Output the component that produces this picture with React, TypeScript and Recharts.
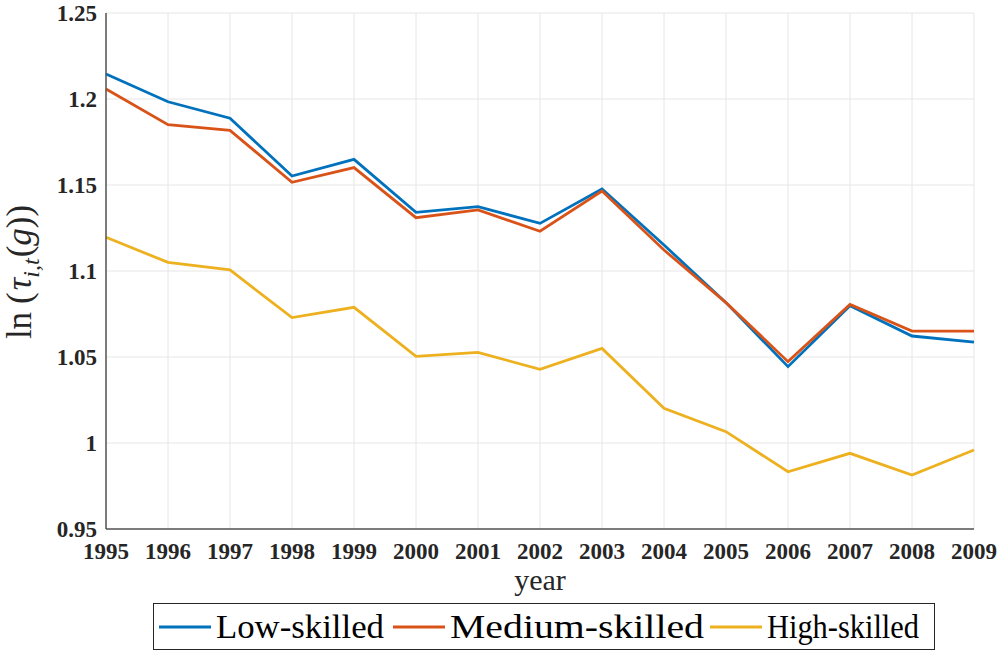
import React from 'react';
import { LineChart, Line, XAxis, YAxis, CartesianGrid } from 'recharts';

const years = [1995, 1996, 1997, 1998, 1999, 2000, 2001, 2002, 2003, 2004, 2005, 2006, 2007, 2008, 2009];
const lowSkilled = [1.2145, 1.1984, 1.1888, 1.1552, 1.1649, 1.1341, 1.1374, 1.1277, 1.1477, 1.1151, 1.0816, 1.0444, 1.0798, 1.0622, 1.0587];
const mediumSkilled = [1.2058, 1.1851, 1.1818, 1.1516, 1.1601, 1.131, 1.1355, 1.1231, 1.1465, 1.1122, 1.0816, 1.0473, 1.0806, 1.0651, 1.0651];
const highSkilled = [1.1196, 1.105, 1.1006, 1.0729, 1.0789, 1.0504, 1.0527, 1.0428, 1.055, 1.0202, 1.0066, 0.9833, 0.994, 0.9814, 0.9959];
const yTicks = [0.95, 1, 1.05, 1.1, 1.15, 1.2, 1.25];

const seriesInfo = [
  { key: 'low', name: 'Low-skilled', color: '#0072BD', at: 6, textW: 168 },
  { key: 'medium', name: 'Medium-skilled', color: '#D95319', at: 240, textW: 254 },
  { key: 'high', name: 'High-skilled', color: '#EDB120', at: 557, textW: 152 },
];

const data = years.map((year, i) => ({
  year,
  low: lowSkilled[i],
  medium: mediumSkilled[i],
  high: highSkilled[i],
}));

const axisColor = '#555555';
const serif = 'Liberation Serif';
const tickStyle = { fill: '#262626', fontSize: 23, fontWeight: 'bold', fontFamily: serif };

function YLabel() {
  return (
    <text
      transform="translate(31,272) rotate(-90)"
      textAnchor="middle"
      fontFamily={serif}
      fontSize={35}
      fill="#262626"
    >
      <tspan>ln</tspan>
      <tspan dx={8}>(</tspan>
      <tspan dx={2} fontStyle="italic">τ</tspan>
      <tspan fontStyle="italic" fontSize={24} dy={8}>i,t</tspan>
      <tspan dx={1} dy={-8}>(</tspan>
      <tspan fontStyle="italic">g</tspan>
      <tspan>))</tspan>
    </text>
  );
}

// legend box under the axes, like the matlab one
function LegendBox() {
  return (
    <svg
      width={783}
      height={48}
      style={{ position: 'absolute', left: 153, top: 603 }}
    >
      <rect x={0.5} y={0.5} width={781} height={46} fill="#fff" stroke="#262626" strokeWidth={1} />
      {seriesInfo.map(s => (
        <g key={s.key} transform={`translate(${s.at},0)`}>
          <line x1={0} x2={52} y1={24} y2={24} stroke={s.color} strokeWidth={3} />
          <text
            x={57}
            y={35}
            fontFamily={serif}
            fontSize={34}
            fill="#000"
            textLength={s.textW}
            lengthAdjust="spacingAndGlyphs"
          >
            {s.name}
          </text>
        </g>
      ))}
    </svg>
  );
}

export default function App() {
  return (
    <div style={{ position: 'relative', width: 1005, height: 653, background: '#fff' }}>
      <style>{`body{margin:0}`}</style>
      <LineChart width={1005} height={653} data={data} margin={{ top: 13, right: 31, bottom: 0, left: 0 }}>
        <CartesianGrid xAxisId="b" yAxisId="l" stroke="#e6e6e6" strokeWidth={1} />
        <XAxis
          xAxisId="b"
          dataKey="year"
          type="number"
          domain={[1995, 2009]}
          ticks={years}
          height={124}
          tickLine={false}
          tickSize={0}
          tickMargin={14}
          axisLine={{ stroke: axisColor, strokeWidth: 1.5 }}
          tick={tickStyle}
          interval={0}
          label={{ value: 'year', position: 'insideTop', offset: 40, style: { fontFamily: serif, fontSize: 30, fill: '#262626' } }}
        />
        <XAxis
          xAxisId="bi"
          dataKey="year"
          type="number"
          domain={[1995, 2009]}
          ticks={years}
          mirror
          height={0}
          tick={false}
          axisLine={false}
          tickSize={9}
          tickLine={{ stroke: axisColor, strokeWidth: 1.5 }}
          interval={0}
        />
        <XAxis
          xAxisId="t"
          dataKey="year"
          type="number"
          orientation="top"
          domain={[1995, 2009]}
          ticks={years}
          mirror
          height={0}
          tick={false}
          axisLine={{ stroke: axisColor, strokeWidth: 1.5 }}
          tickSize={9}
          tickLine={{ stroke: axisColor, strokeWidth: 1.5 }}
          interval={0}
        />
        <YAxis
          yAxisId="l"
          type="number"
          domain={[0.95, 1.25]}
          ticks={yTicks}
          width={106}
          tickLine={false}
          tickSize={0}
          tickMargin={9}
          axisLine={{ stroke: axisColor, strokeWidth: 1.5 }}
          tick={tickStyle}
          interval={0}
          tickFormatter={(v: number) => String(+v.toFixed(2))}
          label={<YLabel />}
        />
        <YAxis
          yAxisId="li"
          type="number"
          domain={[0.95, 1.25]}
          ticks={yTicks}
          mirror
          width={0}
          tick={false}
          axisLine={false}
          tickSize={9}
          tickLine={{ stroke: axisColor, strokeWidth: 1.5 }}
          interval={0}
        />
        <YAxis
          yAxisId="r"
          type="number"
          orientation="right"
          domain={[0.95, 1.25]}
          ticks={yTicks}
          mirror
          width={0}
          tick={false}
          axisLine={{ stroke: axisColor, strokeWidth: 1.5 }}
          tickSize={9}
          tickLine={{ stroke: axisColor, strokeWidth: 1.5 }}
          interval={0}
        />
        {seriesInfo.map(s => (
          <Line
            key={s.key}
            xAxisId="b"
            yAxisId="l"
            type="linear"
            dataKey={s.key}
            name={s.name}
            stroke={s.color}
            strokeWidth={2.8}
            dot={false}
            activeDot={false}
            isAnimationActive={false}
          />
        ))}
      </LineChart>
      <LegendBox />
    </div>
  );
}
